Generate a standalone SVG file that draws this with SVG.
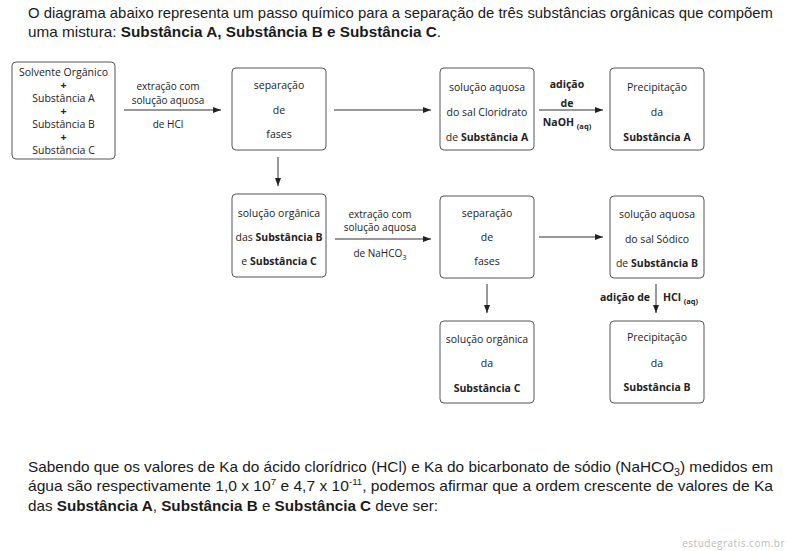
<svg xmlns="http://www.w3.org/2000/svg" width="787" height="551" viewBox="0 0 787 551">
<defs>
<style>
.box{fill:#fff;stroke:#555;stroke-width:1}
.t{font-family:"Open Sans","DejaVu Sans",sans-serif;font-size:10.5px;fill:#222;text-anchor:middle}
.s{font-size:10px}
.b{font-weight:bold}
.sub{font-size:7.5px;font-weight:bold}
.conn line{stroke:#333;stroke-width:1;marker-end:url(#ah)}
.p{font-family:"Liberation Sans",Arial,sans-serif;font-size:15px;fill:#1a1a1a}
.q{font-family:"Liberation Sans",Arial,sans-serif;font-size:14.5px;fill:#1a1a1a}
</style>
<marker id="ah" markerUnits="userSpaceOnUse" markerWidth="8" markerHeight="6" refX="8" refY="3" orient="auto">
<path d="M0,0 L8,3 L0,6 z" fill="#222"/>
</marker>
</defs>
<rect width="787" height="551" fill="#fff"/>

<g id="intro">
<text class="p" x="28" y="18" textLength="745" lengthAdjust="spacingAndGlyphs">O diagrama abaixo representa um passo químico para a separação de três substâncias orgânicas que compõem</text>
<text class="p" x="28" y="37" textLength="413" lengthAdjust="spacingAndGlyphs">uma mistura: <tspan font-weight="bold">Substância A, Substância B e Substância C</tspan>.</text>
</g>

<g class="conn" id="connectors">
<line x1="124" y1="110" x2="221" y2="110"/>
<line x1="334" y1="110" x2="431" y2="110"/>
<line x1="539" y1="110" x2="603" y2="110"/>
<line x1="278" y1="157" x2="278" y2="186"/>
<line x1="335" y1="239" x2="431" y2="239"/>
<line x1="539" y1="237" x2="603" y2="237"/>
<line x1="487" y1="284" x2="487" y2="313"/>
<line x1="656" y1="284" x2="656" y2="313"/>
</g>

<g id="label-hcl">
<text class="t s" x="168" y="90">extração com</text>
<text class="t s" x="168" y="104">solução aquosa</text>
<text class="t s" x="168" y="128">de HCl</text>
</g>
<g id="label-naoh">
<text class="t b" x="567" y="88">adição</text>
<text class="t b" x="567" y="107">de</text>
<text class="t b" x="567" y="126">NaOH <tspan class="sub" dy="3">(aq)</tspan></text>
</g>
<g id="label-nahco3">
<text class="t s" x="380" y="218">extração com</text>
<text class="t s" x="380" y="231">solução aquosa</text>
<text class="t s" x="380" y="257">de NaHCO<tspan font-size="7.5px" dy="3">3</tspan></text>
</g>
<g id="label-hcl2">
<text class="t b" x="650" y="301" style="text-anchor:end">adição de</text>
<text class="t b" x="663" y="301" style="text-anchor:start">HCl <tspan class="sub" dy="3">(aq)</tspan></text>
</g>

<g id="mistura">
<rect class="box" x="12" y="62" width="103" height="97" rx="4"/>
<text class="t" x="63.5" y="76">Solvente Orgânico</text>
<text class="t b" x="63.5" y="89">+</text>
<text class="t" x="63.5" y="102">Substância A</text>
<text class="t b" x="63.5" y="115">+</text>
<text class="t" x="63.5" y="128">Substância B</text>
<text class="t b" x="63.5" y="141">+</text>
<text class="t" x="63.5" y="154">Substância C</text>
</g>

<g id="separacao1">
<rect class="box" x="232" y="68" width="94" height="82" rx="4"/>
<text class="t" x="279" y="89">separação</text>
<text class="t" x="279" y="114">de</text>
<text class="t" x="279" y="138">fases</text>
</g>

<g id="aquosaA">
<rect class="box" x="440" y="68" width="94" height="82" rx="4"/>
<text class="t" x="487" y="91">solução aquosa</text>
<text class="t" x="487" y="116">do sal Cloridrato</text>
<text class="t" x="487" y="141">de <tspan class="b">Substância A</tspan></text>
</g>

<g id="precipA">
<rect class="box" x="610" y="68" width="94" height="82" rx="4"/>
<text class="t" x="657" y="91">Precipitação</text>
<text class="t" x="657" y="116">da</text>
<text class="t b" x="657" y="141">Substância A</text>
</g>

<g id="organicaBC">
<rect class="box" x="232" y="194" width="94" height="83" rx="4"/>
<text class="t" x="279" y="217">solução orgânica</text>
<text class="t" x="279" y="241">das <tspan class="b">Substância B</tspan></text>
<text class="t" x="279" y="265">e <tspan class="b">Substância C</tspan></text>
</g>

<g id="separacao2">
<rect class="box" x="440" y="196" width="94" height="82" rx="4"/>
<text class="t" x="487" y="217">separação</text>
<text class="t" x="487" y="241">de</text>
<text class="t" x="487" y="265">fases</text>
</g>

<g id="aquosaB">
<rect class="box" x="610" y="196" width="94" height="82" rx="4"/>
<text class="t" x="657" y="218">solução aquosa</text>
<text class="t" x="657" y="243">do sal Sódico</text>
<text class="t" x="657" y="267">de <tspan class="b">Substância B</tspan></text>
</g>

<g id="organicaC">
<rect class="box" x="440" y="321" width="94" height="82" rx="4"/>
<text class="t" x="487" y="343">solução orgânica</text>
<text class="t" x="487" y="367">da</text>
<text class="t b" x="487" y="392">Substância C</text>
</g>

<g id="precipB">
<rect class="box" x="610" y="321" width="94" height="82" rx="4"/>
<text class="t" x="657" y="341">Precipitação</text>
<text class="t" x="657" y="367">da</text>
<text class="t b" x="657" y="391">Substância B</text>
</g>

<g id="question">
<text class="q" x="28" y="472" textLength="745" lengthAdjust="spacingAndGlyphs">Sabendo que os valores de Ka do ácido clorídrico (HCl) e Ka do bicarbonato de sódio (NaHCO<tspan font-size="10px" dy="4">3</tspan><tspan dy="-4">) medidos em</tspan></text>
<text class="q" x="28" y="491" textLength="745" lengthAdjust="spacingAndGlyphs">água são respectivamente 1,0 x 10<tspan font-size="9px" dy="-6">7</tspan><tspan dy="6"> e 4,7 x 10</tspan><tspan font-size="9px" dy="-6">-11</tspan><tspan dy="6">, podemos afirmar que a ordem crescente de valores de Ka</tspan></text>
<text class="q" x="28" y="511" textLength="410" lengthAdjust="spacingAndGlyphs">das <tspan font-weight="bold">Substância A</tspan>, <tspan font-weight="bold">Substância B</tspan> e <tspan font-weight="bold">Substância C</tspan> deve ser:</text>
</g>

<text x="785" y="547" font-family="'Open Sans','DejaVu Sans',sans-serif" font-size="10px" fill="#bbb" text-anchor="end" letter-spacing="0.5">estudegratis.com.br</text>
</svg>
